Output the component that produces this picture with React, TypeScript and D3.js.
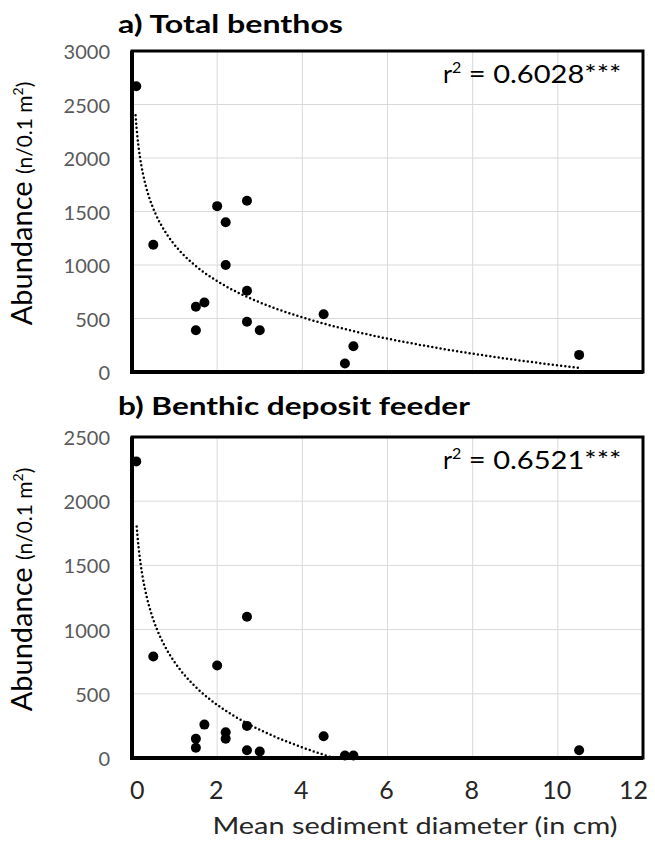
import React from "react";
import * as d3 from "d3";

// mean sediment diameter (cm) for each station
const diameters = [0.1, 0.5, 1.5, 1.5, 1.7, 2.0, 2.2, 2.2, 2.7, 2.7, 2.7, 3.0, 4.5, 5.0, 5.2, 10.5];
// abundance n/0.1 m2
const totalBenthos = [2670, 1190, 390, 610, 650, 1550, 1400, 1000, 1600, 760, 470, 390, 540, 80, 240, 160];
const depositFeeder = [2310, 790, 150, 80, 260, 720, 200, 150, 1100, 250, 60, 50, 170, 20, 20, 60];

const xTicks = [0, 2, 4, 6, 8, 10, 12];
const yTicksA = [0, 500, 1000, 1500, 2000, 2500, 3000];
const yTicksB = [0, 500, 1000, 1500, 2000, 2500];

// log trendlines y = a + b*ln(x)
const trendA = { a: 1188, b: -489, from: 0.084, to: 10.5 };
const trendB = { a: 746, b: -479, from: 0.11, to: 4.76 };

const W = 655;
const H = 844;
const FONT = "Lato, 'Open Sans', sans-serif";

const x = d3.scaleLinear().domain([0, 12]).range([132, 643]);

type Trend = { a: number; b: number; from: number; to: number };

function Panel(props: {
  top: number;
  bottom: number;
  title: string;
  titleY: number;
  titleLen: number;
  yTicks: number[];
  values: number[];
  r2: string;
  trend: Trend;
}) {
  const { top, bottom, title, titleY, titleLen, yTicks, values, r2, trend } = props;
  const yMax = yTicks[yTicks.length - 1];
  const y = d3.scaleLinear().domain([0, yMax]).range([bottom, top]);

  const pts = d3.range(trend.from, trend.to, 0.02).concat([trend.to]);
  const line = d3
    .line<number>()
    .x((d) => x(d))
    .y((d) => y(Math.max(0, trend.a + trend.b * Math.log(d))));

  const midY = (top + bottom) / 2;

  return (
    <g>
      <text
        x={118}
        y={titleY}
        fontFamily={FONT}
        fontWeight="bold"
        fontSize={24}
        fill="#000"
        textLength={titleLen}
        lengthAdjust="spacingAndGlyphs"
      >
        {title}
      </text>
      {/* grid */}
      {yTicks.map((t) => (
        <line key={"gy" + t} x1={x(0)} x2={x(12)} y1={y(t)} y2={y(t)} stroke="#d9d9d9" strokeWidth={1} />
      ))}
      {xTicks.map((t) => (
        <line key={"gx" + t} x1={x(t)} x2={x(t)} y1={top} y2={bottom} stroke="#d9d9d9" strokeWidth={1} />
      ))}
      {/* y tick labels */}
      {yTicks.map((t) => (
        <text
          key={"ty" + t}
          x={110}
          y={y(t)}
          textAnchor="end"
          dominantBaseline="central"
          fontFamily={FONT}
          fontSize={20}
          fill="#595959"
        >
          {t}
        </text>
      ))}
      {/* frame */}
      <rect x={x(0)} y={top} width={x(12) - x(0)} height={bottom - top} fill="none" stroke="#000" strokeWidth={3} />
      <line x1={x(0)} x2={x(0)} y1={top} y2={bottom} stroke="#000" strokeWidth={4} />
      <line x1={x(0) - 2} x2={x(12)} y1={bottom} y2={bottom} stroke="#000" strokeWidth={4} />
      {/* trendline */}
      <path
        d={line(pts) || ""}
        fill="none"
        stroke="#000"
        strokeWidth={2.5}
        strokeDasharray="0 4.2"
        strokeLinecap="round"
      />
      {/* points */}
      {values.map((v, i) => (
        <circle key={"p" + i} cx={x(diameters[i])} cy={y(v)} r={5} fill="#000" />
      ))}
      <text x={443} y={top + 32} fontFamily={FONT} fontSize={25} fill="#000">
        r
        <tspan fontSize={16} dy={-10}>
          2
        </tspan>
        <tspan dy={10} textLength={160} lengthAdjust="spacingAndGlyphs">
          {" = " + r2}
        </tspan>
      </text>
      {/* y title */}
      <text
        transform={`translate(32,${midY - 8}) rotate(-90)`}
        textAnchor="middle"
        fontFamily={FONT}
        fill="#000"
      >
        <tspan fontSize={29}>Abundance </tspan>
        <tspan fontSize={21}>(n/0.1 m</tspan>
        <tspan fontSize={14} dy={-9}>
          2
        </tspan>
        <tspan fontSize={21} dy={9}>
          )
        </tspan>
      </text>
    </g>
  );
}

export default function App() {
  const last = xTicks.length - 1;
  return (
    <svg width={W} height={H} style={{ position: "absolute", left: 0, top: 0, background: "#fff" }}>
      <Panel
        top={51}
        bottom={372}
        title="a) Total benthos"
        titleY={33}
        titleLen={225}
        yTicks={yTicksA}
        values={totalBenthos}
        r2="0.6028***"
        trend={trendA}
      />
      <Panel
        top={437}
        bottom={758}
        title="b) Benthic deposit feeder"
        titleY={415}
        titleLen={352}
        yTicks={yTicksB}
        values={depositFeeder}
        r2="0.6521***"
        trend={trendB}
      />
      {xTicks.map((t, i) => (
        <text
          key={"tx" + t}
          x={i === 0 ? x(t) - 2 : i === last ? x(t) + 5 : x(t) - 1}
          y={799}
          textAnchor={i === 0 ? "start" : i === last ? "end" : "middle"}
          fontFamily={FONT}
          fontSize={25}
          fill="#262626"
        >
          {t}
        </text>
      ))}
      <text
        x={415}
        y={834}
        textAnchor="middle"
        fontFamily={FONT}
        fontSize={24}
        fill="#262626"
        textLength={405}
        lengthAdjust="spacingAndGlyphs"
      >
        Mean sediment diameter (in cm)
      </text>
    </svg>
  );
}
